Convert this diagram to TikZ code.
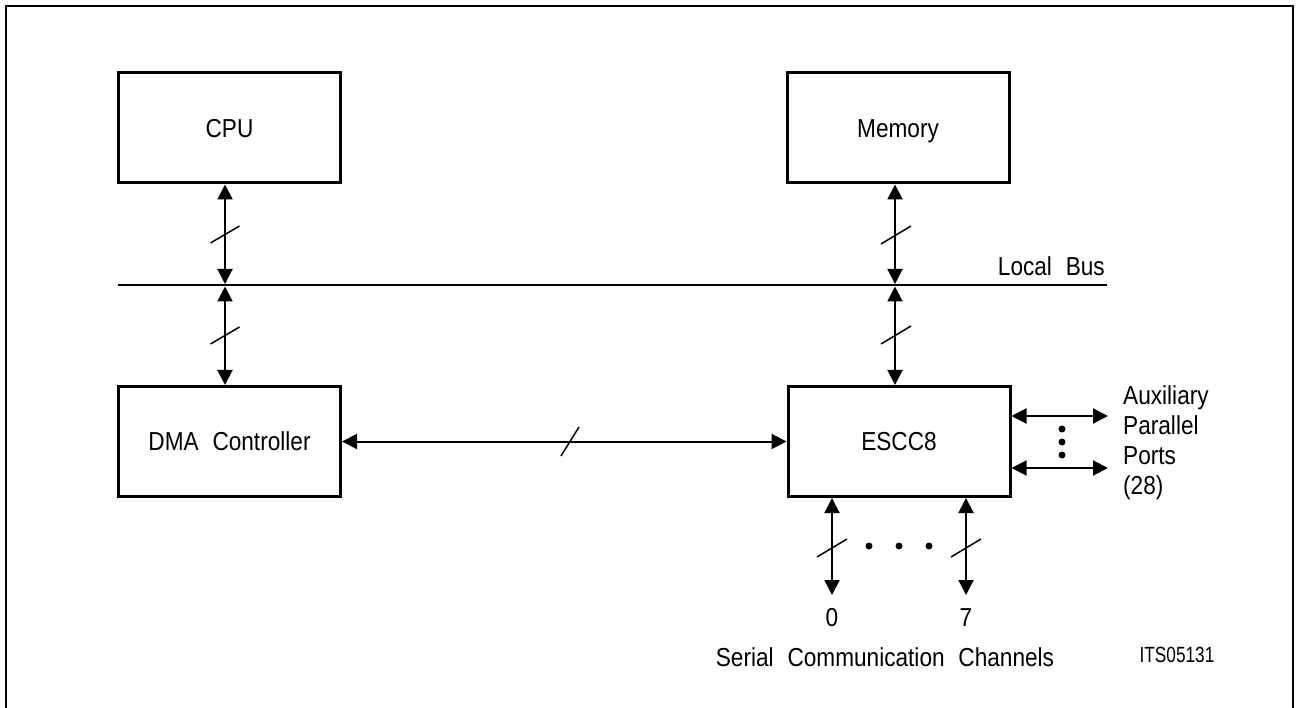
\documentclass[tikz,border=0pt]{standalone}
\usepackage{fontspec}
\usepackage{graphicx}
\setmainfont[WordSpace=2.2,FakeStretch=0.87]{Liberation Sans}
\usetikzlibrary{arrows.meta}
\begin{document}
\begin{tikzpicture}[x=1pt,y=-1pt,
  box/.style={draw,line width=3pt,minimum width=222pt,minimum height=110pt,inner sep=0pt,text height=18.6pt,text depth=0pt,font=\fontsize{26}{31}\selectfont},
  tip/.tip={Triangle[length=15pt,width=15pt]},
  bidir/.style={line width=2pt,{tip}-{tip}},
  slash/.style={line width=1.5pt},
  lbl/.style={font=\fontsize{26}{31}\selectfont,inner sep=0pt},
  dot/.style={fill,circle,inner sep=0pt,minimum size=7pt}]
\useasboundingbox (0,0) rectangle (1298,708);
% frame
\draw[line width=2pt] (6,712) -- (6,6) -- (1293,6) -- (1293,712);
% boxes
\node[box] (cpu) at (229.5,128) {CPU};
\node[box] (mem) at (898,128) {Memory};
\node[box] (dma) at (229.5,441.5) {DMA Controller};
\node[box] (escc) at (899,441.5) {ESCC8};
% local bus
\coordinate (busL) at (118,285);
\coordinate (busR) at (1107,285);
\draw[line width=1.5pt] (busL) -- (busR);
\node[lbl,anchor=base east] (lbus) at (1105,276) {Local Bus};
% CPU <-> bus <-> DMA
\coordinate (cbu) at (225,284);
\coordinate (cbd) at (225,286.5);
\draw[bidir] (cpu.south -| cbu) -- (cbu);
\draw[bidir] (cbd) -- (dma.north -| cbd);
\draw[slash] (225,234.5) ++(-14.5,8.5) -- ++(29,-17);
\draw[slash] (225,335.5) ++(-14.5,8.5) -- ++(29,-17);
% Memory <-> bus <-> ESCC8
\coordinate (mbu) at (895,284);
\coordinate (mbd) at (895,286.5);
\draw[bidir] (mem.south -| mbu) -- (mbu);
\draw[bidir] (mbd) -- (escc.north -| mbd);
\draw[slash] (896,235) ++(-15,9) -- ++(30,-18);
\draw[slash] (896,335) ++(-15,9) -- ++(30,-18);
% DMA <-> ESCC8
\draw[bidir] (dma.east) -- (escc.west);
\draw[slash] (570,441.5) ++(-9,14.5) -- ++(18,-29);
% auxiliary ports
\coordinate (a1) at (1108,416);
\coordinate (a2) at (1108,468);
\draw[bidir] (escc.east |- a1) -- (a1);
\draw[bidir] (escc.east |- a2) -- (a2);
\node[dot] (ad1) at (1062,429) {};
\node[dot] (ad2) at (1062,442) {};
\node[dot] (ad3) at (1062,455) {};
\node[lbl,anchor=base west] (aux1) at (1123,404) {Auxiliary};
\node[lbl,anchor=base west] (aux2) at (1123,434) {Parallel};
\node[lbl,anchor=base west] (aux3) at (1123,464) {Ports};
\node[lbl,anchor=base west] (aux4) at (1123,494) {(28)};
% serial channels
\coordinate (s0) at (832,595);
\coordinate (s7) at (966,595);
\draw[bidir] (escc.south -| s0) -- (s0);
\draw[bidir] (escc.south -| s7) -- (s7);
\draw[slash] (832,548) ++(-15,9) -- ++(30,-18);
\draw[slash] (966,548) ++(-15,9) -- ++(30,-18);
\node[dot] (sd1) at (869,546) {};
\node[dot] (sd2) at (899,546) {};
\node[dot] (sd3) at (929,546) {};
\node[lbl] (l0) at (832,618) {0};
\node[lbl] (l7) at (966,618) {7};
\node[lbl] (ser) at (885,657) {Serial Communication Channels};
\node[inner sep=0pt] (its) at (1177,655) {\scalebox{0.9}[1]{\fontsize{22}{26}\selectfont ITS05131}};
\end{tikzpicture}
\end{document}
